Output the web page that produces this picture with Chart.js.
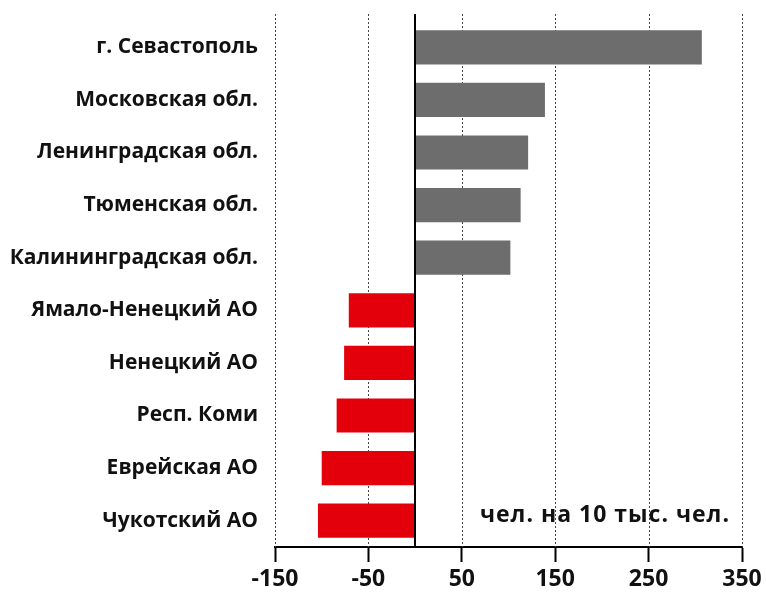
<!DOCTYPE html>
<html>
<head>
<meta charset="utf-8">
<script src="https://cdn.jsdelivr.net/npm/chart.js@4"></script>
<style>
  html, body { margin: 0; padding: 0; background: #fff; }
  #wrap { width: 766px; height: 592px; }
</style>
</head>
<body>
<div id="wrap"><canvas id="chart"></canvas></div>
<script>
// regions and migration balance, people per 10k
const regions = [
    'г. Севастополь',
    'Московская обл.',
    'Ленинградская обл.',
    'Тюменская обл.',
    'Калининградская обл.',
    'Ямало-Ненецкий АО',
    'Ненецкий АО',
    'Респ. Коми',
    'Еврейская АО',
    'Чукотский АО'
];
const values = [307, 139, 121, 113, 102, -71, -76, -84, -100, -104];
const tickValues = [-150, -50, 50, 150, 250, 350];
const unitLabel = 'чел. на 10 тыс. чел.';

const posColor = '#6d6d6d';
const negColor = '#e3000b';

// dotted grid lines (a bit above the plot), zero line and unit caption
const extras = {
    id: 'extras',
    beforeDatasetsDraw(chart) {
        const ctx = chart.ctx;
        const x = chart.scales.x;
        const area = chart.chartArea;
        ctx.save();
        ctx.strokeStyle = '#444';
        ctx.lineWidth = 1;
        ctx.setLineDash([2, 2]);
        tickValues.forEach(v => {
            const px = Math.round(x.getPixelForValue(v)) + 0.5;
            ctx.beginPath();
            ctx.moveTo(px, area.top - 7);
            ctx.lineTo(px, area.bottom);
            ctx.stroke();
        });
        ctx.restore();
    },
    afterDatasetsDraw(chart) {
        const ctx = chart.ctx;
        const x = chart.scales.x;
        const area = chart.chartArea;
        ctx.save();
        const z = Math.round(x.getPixelForValue(0));
        ctx.strokeStyle = '#000';
        ctx.lineWidth = 2;
        ctx.beginPath();
        ctx.moveTo(z, area.top - 7);
        ctx.lineTo(z, area.bottom);
        ctx.stroke();

        ctx.fillStyle = '#111';
        ctx.font = 'bold 23px "Open Sans"';
        ctx.letterSpacing = '1px';
        ctx.textAlign = 'right';
        ctx.textBaseline = 'middle';
        ctx.fillText(unitLabel, 730, 515);
        ctx.restore();
    }
};

new Chart(document.getElementById('chart'), {
    type: 'bar',
    data: {
        labels: regions,
        datasets: [{
            data: values,
            backgroundColor: values.map(v => v >= 0 ? posColor : negColor),
            borderWidth: 0,
            barPercentage: 0.65,
            categoryPercentage: 1
        }]
    },
    options: {
        indexAxis: 'y',
        responsive: true,
        maintainAspectRatio: false,
        animation: false,
        layout: { padding: { top: 21, right: 24, left: 0, bottom: 0 } },
        plugins: {
            legend: { display: false },
            tooltip: { enabled: false }
        },
        scales: {
            x: {
                min: -150,
                max: 350,
                afterBuildTicks: scale => {
                    scale.ticks = tickValues.map(v => ({ value: v }));
                },
                afterFit: scale => {
                    scale.height = 45;
                    scale.paddingLeft = 0;
                    scale.paddingRight = 0;
                },
                grid: {
                    drawOnChartArea: false,
                    drawTicks: true,
                    tickLength: 15,
                    tickWidth: 2,
                    tickColor: '#000'
                },
                border: { display: true, color: '#000', width: 2 },
                ticks: {
                    color: '#111',
                    padding: 4,
                    font: { family: 'Open Sans', weight: 'bold', size: 23 },
                    maxRotation: 0
                }
            },
            y: {
                afterFit: scale => {
                    scale.width = 275;
                    scale.paddingTop = 0;
                    scale.paddingBottom = 0;
                },
                grid: { display: false, drawTicks: false },
                border: { display: false },
                ticks: {
                    color: '#111',
                    padding: 17,
                    font: { family: 'Open Sans', weight: 'bold', size: 21 }
                }
            }
        }
    },
    plugins: [extras]
});
</script>
</body>
</html>
